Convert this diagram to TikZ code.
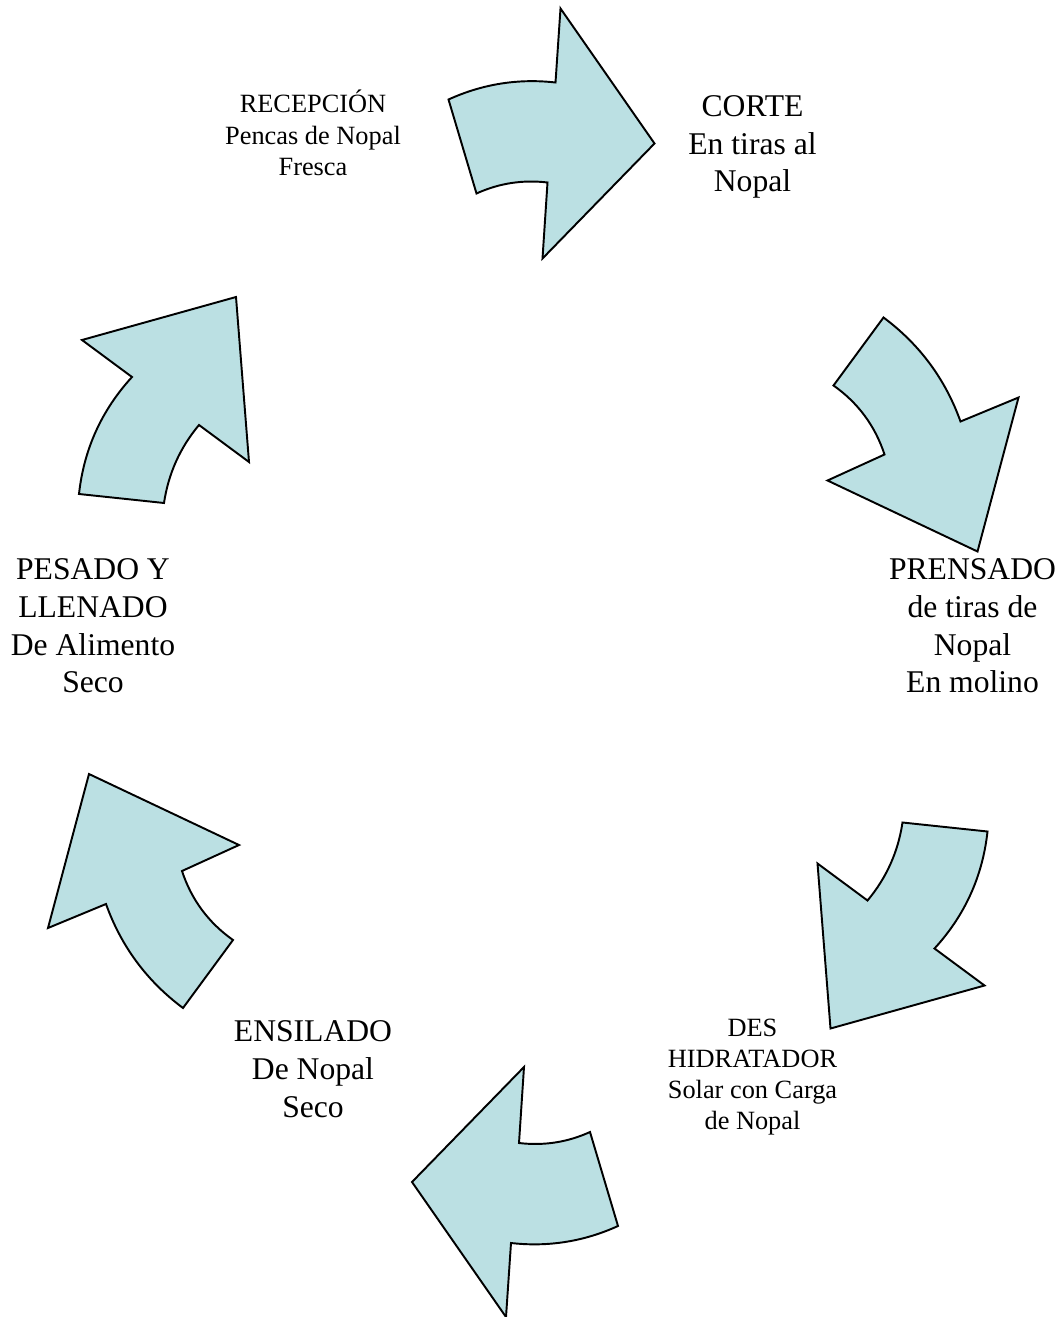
\documentclass[tikz,border=0pt]{standalone}
\usepackage{fontspec}
\setmainfont{Liberation Serif}
\definecolor{paleteal}{HTML}{BBE0E3}
\definecolor{inkline}{HTML}{000000}

\begin{document}
\begin{tikzpicture}[
    x=0.02cm, y=-0.02cm,
    every node/.style={text=inkline, inner sep=0pt, align=center},
    bigtext/.style={font=\fontsize{18}{21.5}\selectfont},
    smalltext/.style={font=\fontsize{15}{17.8}\selectfont},
    bentarrow/.style={fill=paleteal, draw=inkline, line width=1.1pt, line join=miter},
  ]

  \useasboundingbox (0,0) rectangle (1062,1317);

  % centre of the cycle: the lower three arrows are the upper three turned round it
  \coordinate (hub) at (533.25,662.75);

  %%% ============================================================ %%%
  %%% Arrows                                                       %%%
  %%% ============================================================ %%%
  \foreach \turn in {0,180}{
    \begin{scope}[rotate around={\turn:(hub)}]
      % top arrow (bottom one when turned)
      \draw[bentarrow] (448.5,99.5)
        .. controls (482.6,84.0) and (518.3,78.3) .. (555.5,82.5)
        -- (560.5,8.5) -- (654.5,143.5) -- (542.5,258.5) -- (547.5,182.5)
        .. controls (522.8,179.6) and (499.1,183.2) .. (476.5,193.5) -- cycle;

      % upper right arrow (lower left one when turned)
      \draw[bentarrow] (883.5,317.5)
        .. controls (919.6,344.4) and (945.3,379.1) .. (960.5,421.5)
        -- (1018.5,397.5) -- (977.5,551.5) -- (827.5,480.5) -- (884.5,454.5)
        .. controls (875.1,425.9) and (858.1,402.9) .. (833.5,385.5) -- cycle;

      % lower right arrow (upper left one when turned)
      \draw[bentarrow] (902.5,822.5) -- (987.5,831.5)
        .. controls (982.6,876.3) and (964.9,915.3) .. (934.5,948.5)
        -- (984.5,985.5) -- (830.5,1028.5) -- (817.5,863.5) -- (867.5,900.5)
        .. controls (886.5,877.8) and (898.1,851.8) .. (902.5,822.5) -- cycle;
    \end{scope}
  }

  %%% ============================================================ %%%
  %%% Steps                                                        %%%
  %%% ============================================================ %%%
  \node[smalltext] (recepcion) at (313,133)
    {RECEPCIÓN\\Pencas de Nopal\\Fresca};
  \node[bigtext] (corte) at (752.5,147)
    {CORTE\\En tiras al\\Nopal};
  \node[bigtext] (prensado) at (972.5,626)
    {PRENSADO\\de tiras de\\Nopal\\En molino};
  \node[smalltext] (deshidratador) at (752.5,1077)
    {DES\\HIDRATADOR\\Solar con Carga\\de Nopal};
  \node[bigtext] (ensilado) at (313,1069)
    {ENSILADO\\De Nopal\\Seco};
  \node[bigtext] (pesado) at (93,626)
    {PESADO Y\\LLENADO\\De Alimento\\Seco};

\end{tikzpicture}
\end{document}
